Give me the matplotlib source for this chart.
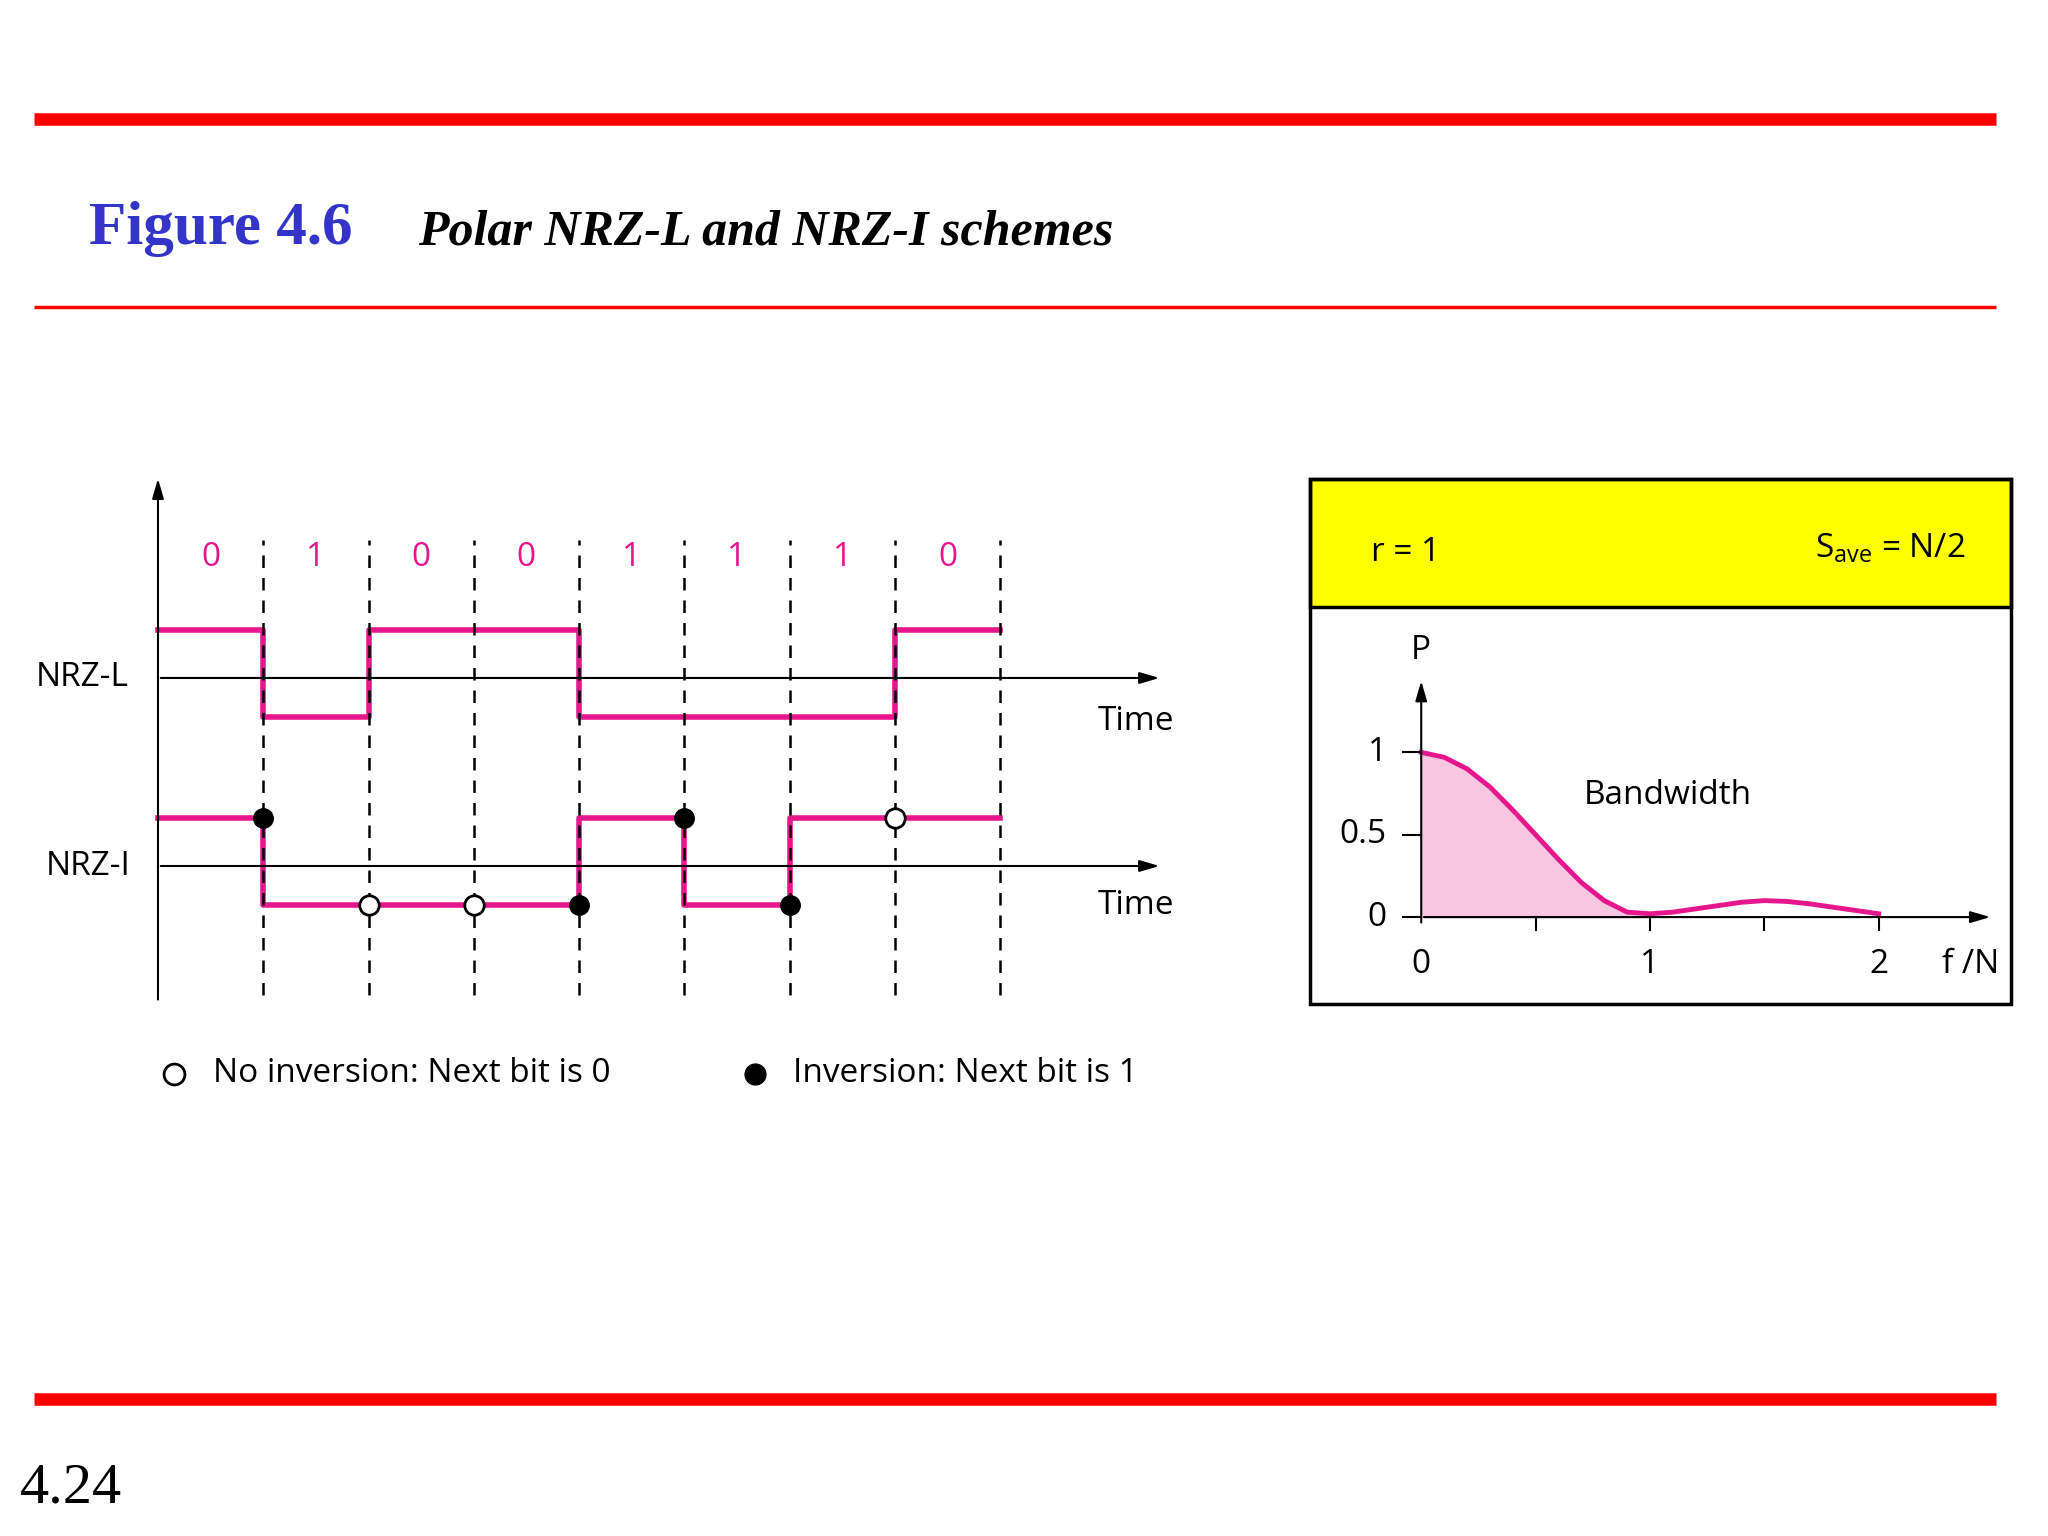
import numpy as np
import matplotlib
matplotlib.use("Agg")
from matplotlib import pyplot as plt
from matplotlib.patches import Rectangle

plt.rcParams['font.family'] = ['Open Sans', 'DejaVu Sans']

MAG = "#e6168c"
W, H = 1568.0, 1176.0   # layout grid of the slide
FS = 24

bits = [0, 1, 0, 0, 1, 1, 1, 0]
nrzl = [1 if b == 0 else -1 for b in bits]
nrzi = []
lvl = 1
for i, b in enumerate(bits):
    if b == 1:
        lvl = -lvl
    nrzi.append(lvl)
hi, lo = 0.51, 0.42

freq = [0, 0.1, 0.2, 0.3, 0.4, 0.5, 0.6, 0.7, 0.8, 0.9, 1.0,
        1.1, 1.2, 1.3, 1.4, 1.5, 1.6, 1.7, 1.8, 1.9, 2.0]
power = [1.0, 0.97, 0.9, 0.79, 0.65, 0.5, 0.35, 0.21, 0.1, 0.03, 0.02,
         0.03, 0.05, 0.07, 0.09, 0.1, 0.095, 0.08, 0.06, 0.04, 0.02]


def box(px0, py0, px1, py1):
    return [px0 / W, 1 - py1 / H, (px1 - px0) / W, (py1 - py0) / H]


def lev(v):
    return hi if v > 0 else -lo


fig = plt.figure(figsize=(20.48, 15.36), dpi=100)

# slide decoration
deco = fig.add_axes([0, 0, 1, 1])
deco.set_xlim(0, W)
deco.set_ylim(H, 0)
deco.axis("off")
deco.plot([26, 1528], [91, 91], color="red", lw=9, solid_capstyle="butt")
deco.plot([26, 1528], [235, 235], color="red", lw=2.5, solid_capstyle="butt")
deco.plot([26, 1528], [1071, 1071], color="red", lw=9, solid_capstyle="butt")
deco.text(68, 175, "Figure 4.6", family="Liberation Serif", fontweight="bold",
          color="#3434c8", fontsize=44, va="center")
deco.text(320, 178, "Polar NRZ-L and NRZ-I schemes", family="Liberation Serif",
          fontweight="bold", style="italic", fontsize=36, va="center")
deco.text(15, 1140, "4.24", family="Liberation Serif", fontsize=42, va="center")
# legend
deco.plot(133, 822, "o", ms=15, mfc="white", mec="black", mew=2)
deco.text(163, 822, "No inversion: Next bit is 0", fontsize=FS, va="center")
deco.plot(578, 822, "o", ms=15, color="black")
deco.text(607, 822, "Inversion: Next bit is 1", fontsize=FS, va="center")
# right panel frame
deco.add_patch(Rectangle((1003, 367), 537, 98, facecolor="#ffff00", edgecolor="black", lw=2.5))
deco.add_patch(Rectangle((1003, 367), 537, 402, facecolor="none", edgecolor="black", lw=2.5))
deco.text(1050, 423, "r = 1", fontsize=FS, va="center")
deco.text(1505, 420, r"S$_{\mathregular{ave}}$ = N/2", fontsize=FS, va="center", ha="right")

# waveform axes
ax = fig.add_axes(box(100, 360, 910, 780))
ax.set_xlim(-0.26, 9.79)
ax.set_ylim(-1.625, 4.21)
ax.axis("off")
n = len(bits)
xs = np.arange(n + 1)
ax.step(xs, [2 + lev(v) for v in nrzl] + [2 + lev(nrzl[-1])], where="post", color=MAG, lw=4)
ax.step(xs, [lev(v) for v in nrzi] + [lev(nrzi[-1])], where="post", color=MAG, lw=4)
for i in range(1, n + 1):
    ax.plot([i, i], [-1.375, 3.47], color="black", lw=1.8, ls=(0, (5, 4)))
for i, b in enumerate(bits):
    ax.text(i + 0.5, 3.28, str(b), color=MAG, fontsize=FS, ha="center", va="center")
for i in range(1, n):
    y = lev(nrzi[i - 1])
    if bits[i] == 1:
        ax.plot(i, y, "o", ms=14, color="black", zorder=5)
    else:
        ax.plot(i, y, "o", ms=14, mfc="white", mec="black", mew=2, zorder=5)
for y0 in (2, 0):
    ax.annotate("", xy=(9.54, y0), xytext=(0, y0),
                arrowprops=dict(arrowstyle="-|>,head_length=1.2,head_width=0.35", color="black", lw=1.5))
ax.annotate("", xy=(0, 4.15), xytext=(0, -1.45),
            arrowprops=dict(arrowstyle="-|>,head_length=1.2,head_width=0.35", color="black", lw=1.5))
ax.text(9.29, 1.54, "Time", fontsize=FS, ha="center", va="center")
ax.text(9.29, -0.42, "Time", fontsize=FS, ha="center", va="center")
ax.text(-0.72, 2, "NRZ-L", fontsize=FS, ha="center", va="center", clip_on=False)
ax.text(-0.66, 0, "NRZ-I", fontsize=FS, ha="center", va="center", clip_on=False)

# spectrum axes
sp = fig.add_axes(box(1003, 465, 1540, 769))
sp.set_xlim(-0.486, 2.58)
sp.set_ylim(-0.53, 1.88)
sp.axis("off")
sp.fill_between([f for f in freq if f <= 1], [p for f, p in zip(freq, power) if f <= 1],
                color="#f9c6e2")
sp.plot(freq, power, color=MAG, lw=3.5)
sp.annotate("", xy=(2.5, 0), xytext=(0, 0),
            arrowprops=dict(arrowstyle="-|>,head_length=1.2,head_width=0.35", color="black", lw=1.5))
sp.annotate("", xy=(0, 1.45), xytext=(0, -0.05),
            arrowprops=dict(arrowstyle="-|>,head_length=1.2,head_width=0.35", color="black", lw=1.5))
for t in (0.5, 1, 1.5, 2):
    sp.plot([t, t], [0, -0.08], color="black", lw=1.5)
for t, lab in ((1, "1"), (0.5, "0.5"), (0, "0")):
    sp.plot([0, -0.08], [t, t], color="black", lw=1.5)
    sp.text(-0.15, t, lab, fontsize=FS, ha="right", va="center")
for t in (0, 1, 2):
    sp.text(t, -0.29, str(t), fontsize=FS, ha="center", va="center")
sp.text(2.4, -0.29, "f /N", fontsize=FS, ha="center", va="center")
sp.text(0, 1.62, "P", fontsize=FS, ha="center", va="center")
sp.text(1.08, 0.74, "Bandwidth", fontsize=FS, ha="center", va="center")

fig.savefig("out.png", dpi=100, facecolor="white")
